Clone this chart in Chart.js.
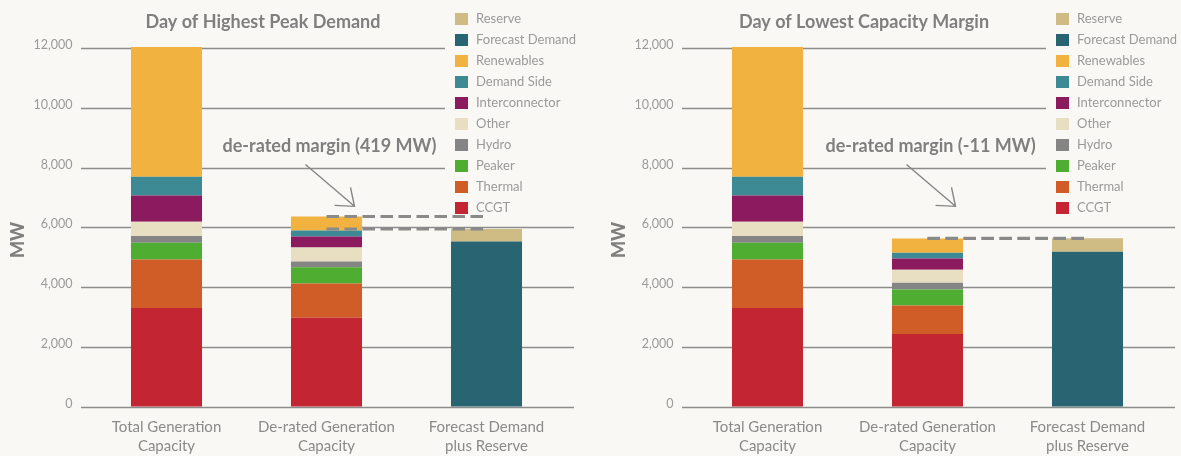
<!DOCTYPE html>
<html lang="en">
<head>
  <meta charset="UTF-8" />
  <title>De-rated capacity margin</title>
  <script src="https://cdn.jsdelivr.net/npm/chart.js"></script>
  <style>
    body {
      margin: 0;
      width: 1181px;
      height: 456px;
      overflow: hidden;
      background: #f9f8f4;
      font-family: 'Lato', sans-serif;
    }

    .panel {
      position: absolute;
      top: 0;
      height: 456px;
    }

    #peakPanel { left: 0; width: 590px; }
    #lowPanel { left: 601px; width: 580px; }

    .legend {
      position: absolute;
      left: 445px;
      top: 8px;
      width: 135px;
      height: 200px;
      padding-left: 10px;
      background: #f9f8f4;
      color: #9a9a9a;
      font-size: 13px;
    }

    .legend div {
      height: 21px;
      line-height: 21px;
      white-space: nowrap;
    }

    .legend span {
      display: inline-block;
      width: 13px;
      height: 12px;
      margin-right: 8px;
      vertical-align: -2px;
    }
  </style>
</head>
<body>
  <div class="panel" id="peakPanel">
    <canvas id="peakChart" width="590" height="456"></canvas>
    <div class="legend" id="peakLegend"></div>
  </div>
  <div class="panel" id="lowPanel">
    <canvas id="lowChart" width="580" height="456"></canvas>
    <div class="legend" id="lowLegend"></div>
  </div>

  <script>
    const categories = [
      ["Total Generation", "Capacity"],
      ["De-rated Generation", "Capacity"],
      ["Forecast Demand", "plus Reserve"]
    ];
    const seriesNames = ["CCGT", "Thermal", "Peaker", "Hydro", "Other", "Interconnector",
                         "Demand Side", "Renewables", "Forecast Demand", "Reserve"];
    const seriesColors = ["#c32632", "#d05d27", "#4fad32", "#858585", "#e8dfc3", "#8c1a5e",
                          "#3d8a94", "#f1b240", "#286472", "#cfbc84"];

    // Day of Highest Peak Demand (MW)
    const peakTitle = "Day of Highest Peak Demand";
    const peakMargin = "de-rated margin (419 MW)";
    const peakCCGT = [3300, 2970, null];
    const peakThermal = [1620, 1150, null];
    const peakPeaker = [560, 540, null];
    const peakHydro = [230, 190, null];
    const peakOther = [470, 470, null];
    const peakInterconnector = [880, 370, null];
    const peakDemandSide = [630, 200, null];
    const peakRenewables = [4340, 470, null];
    const peakForecastDemand = [null, null, 5520];
    const peakReserve = [null, null, 420];

    // Day of Lowest Capacity Margin (MW)
    const lowTitle = "Day of Lowest Capacity Margin";
    const lowMargin = "de-rated margin (-11 MW)";
    const lowCCGT = [3300, 2430, null];
    const lowThermal = [1620, 950, null];
    const lowPeaker = [560, 540, null];
    const lowHydro = [230, 220, null];
    const lowOther = [470, 440, null];
    const lowInterconnector = [880, 370, null];
    const lowDemandSide = [630, 200, null];
    const lowRenewables = [4340, 470, null];
    const lowForecastDemand = [null, null, 5180];
    const lowReserve = [null, null, 450];

    const peakSeries = [peakCCGT, peakThermal, peakPeaker, peakHydro, peakOther, peakInterconnector,
                        peakDemandSide, peakRenewables, peakForecastDemand, peakReserve];
    const lowSeries = [lowCCGT, lowThermal, lowPeaker, lowHydro, lowOther, lowInterconnector,
                       lowDemandSide, lowRenewables, lowForecastDemand, lowReserve];

    const grey = '#858585';

    function stackTop(chart, index) {
      return chart.data.datasets.reduce((s, ds) => s + (ds.data[index] || 0), 0);
    }

    // gridlines, dashed margin lines, arrow and texts
    const decorations = {
      id: 'decorations',
      beforeDatasetsDraw(chart) {
        const { ctx, chartArea, scales: { y } } = chart;
        ctx.save();
        ctx.strokeStyle = '#8c8c8c';
        ctx.lineWidth = 1.4;
        y.ticks.forEach(t => {
          const py = Math.round(y.getPixelForValue(t.value)) + 0.5;
          ctx.beginPath();
          ctx.moveTo(chartArea.left - 5.5, py);
          ctx.lineTo(chartArea.right + 7.5, py);
          ctx.stroke();
        });
        ctx.restore();
      },
      afterDatasetsDraw(chart, args, opts) {
        const { ctx, scales: { x, y } } = chart;
        const x1 = x.getPixelForValue(1);
        const x2 = x.getPixelForValue(2);
        ctx.save();

        // dashed lines between the de-rated total and demand + reserve
        ctx.strokeStyle = '#8a8a8a';
        ctx.lineWidth = 3;
        ctx.setLineDash([12.5, 5.5]);
        [stackTop(chart, 1), stackTop(chart, 2)].forEach(v => {
          const py = y.getPixelForValue(v);
          ctx.beginPath();
          ctx.moveTo(x1, py);
          ctx.lineTo(x2, py);
          ctx.stroke();
        });
        ctx.setLineDash([]);

        // arrow
        const tipX = x1 + 28, tipY = y.getPixelForValue(6700);
        ctx.lineWidth = 1.4;
        ctx.strokeStyle = grey;
        ctx.beginPath();
        ctx.moveTo(x1 - 21, y.getPixelForValue(8100));
        ctx.lineTo(tipX, tipY);
        ctx.moveTo(tipX - 20, tipY - 1);
        ctx.lineTo(tipX, tipY);
        ctx.lineTo(tipX - 4, tipY - 19);
        ctx.stroke();

        // margin label
        ctx.fillStyle = '#7f7f7f';
        ctx.font = 'bold 18px Lato';
        ctx.textAlign = 'center';
        ctx.textBaseline = 'middle';
        ctx.fillText(opts.margin, x1 + 3, y.getPixelForValue(8730));

        // title
        ctx.fillText(opts.title, 263, 22);

        // axis title
        ctx.font = '900 18px Lato';
        ctx.translate(18, 240);
        ctx.rotate(-Math.PI / 2);
        ctx.fillText('MW', 0, 0);
        ctx.restore();
      }
    };

    function makeChart(canvasId, legendId, series, title, margin, padRight) {
      const datasets = seriesNames.map((name, i) => ({
        label: name,
        data: series[i],
        backgroundColor: seriesColors[i],
        borderWidth: 0,
        categoryPercentage: 1,
        barPercentage: 0.444,
        clip: false
      }));

      const legend = document.getElementById(legendId);
      seriesNames.slice().reverse().forEach((name, k) => {
        const i = seriesNames.length - 1 - k;
        const row = document.createElement('div');
        row.innerHTML = `<span style="background:${seriesColors[i]}"></span>${name}`;
        legend.appendChild(row);
      });

      return new Chart(document.getElementById(canvasId), {
        type: 'bar',
        data: { labels: categories, datasets: datasets },
        options: {
          responsive: false,
          animation: false,
          devicePixelRatio: 1,
          layout: { padding: { top: 48, right: padRight, left: 0, bottom: 0 } },
          plugins: {
            legend: { display: false },
            tooltip: { enabled: false },
            decorations: { title: title, margin: margin }
          },
          scales: {
            x: {
              stacked: true,
              grid: { display: false, drawTicks: false },
              border: { display: false },
              ticks: {
                color: '#8a8a8a',
                font: { family: 'Lato', size: 15, lineHeight: 1.27 },
                padding: 11,
                maxRotation: 0,
                autoSkip: false
              },
              afterFit(scale) { scale.height = 49.5; }
            },
            y: {
              stacked: true,
              min: 0,
              max: 12000,
              grid: { display: false, drawTicks: false },
              border: { display: false },
              ticks: {
                stepSize: 2000,
                color: '#9a9a9a',
                font: { family: 'Lato', size: 12.5 },
                padding: 14,
                labelOffset: -3,
                callback: v => v.toLocaleString('en-US')
              },
              afterFit(scale) { scale.width = 86.5; }
            }
          }
        },
        plugins: [decorations]
      });
    }

    makeChart('peakChart', 'peakLegend', peakSeries, peakTitle, peakMargin, 23.5);
    makeChart('lowChart', 'lowLegend', lowSeries, lowTitle, lowMargin, 13.5);
  </script>
</body>
</html>
